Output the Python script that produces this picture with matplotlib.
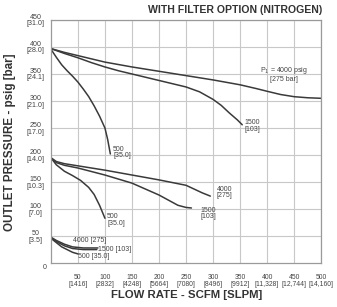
import numpy as np
import matplotlib.pyplot as plt

plt.rcParams["font.family"] = ["Liberation Sans", "DejaVu Sans"]

# flow (SCFM) and outlet pressure (psig)
# 400 psig outlet group
top_4000_x = [0, 25, 50, 75, 100, 150, 200, 250, 300, 350, 380, 400, 425, 450, 475, 500]
top_4000_y = [397, 390, 384, 378, 372, 363, 355, 347, 339, 330, 323, 318, 312, 308, 306, 305]
top_1500_x = [0, 25, 50, 75, 100, 125, 150, 175, 200, 225, 250, 275, 300, 315, 330, 345, 354]
top_1500_y = [397, 388, 380, 371, 363, 356, 350, 344, 338, 332, 326, 317, 303, 292, 278, 265, 256]
top_500_x = [0, 10, 20, 30, 40, 50, 60, 70, 80, 90, 100, 105, 110]
top_500_y = [396, 381, 367, 356, 346, 335, 322, 308, 291, 272, 250, 229, 202]

# 200 psig outlet group
mid_4000_x = [0, 10, 25, 50, 100, 150, 200, 250, 265, 280, 295]
mid_4000_y = [195, 188, 184, 180, 172, 163, 154, 144, 137, 130, 124]
mid_1500_x = [0, 10, 25, 50, 100, 150, 200, 235, 250, 260]
mid_1500_y = [195, 186, 181, 176, 163, 148, 126, 107, 103, 102]
mid_500_x = [0, 10, 25, 40, 55, 70, 80, 90, 100]
mid_500_y = [195, 182, 170, 162, 153, 140, 127, 107, 83]

# 50 psig outlet group
low_4000_x = [0, 10, 25, 40, 60, 87]
low_4000_y = [48, 42, 35, 30, 28, 28]
low_1500_x = [0, 10, 25, 40, 60, 85]
low_1500_y = [47, 40, 32, 27, 25, 25]
low_500_x = [0, 10, 20, 30, 40, 50]
low_500_y = [46, 38, 30, 25, 20, 17]

x_ticks = [50, 100, 150, 200, 250, 300, 350, 400, 450, 500]
x_slpm = ["1416", "2832", "4248", "5664", "7080", "8496", "9912", "11,328", "12,744", "14,160"]
y_ticks = [50, 100, 150, 200, 250, 300, 350, 400, 450]
y_bar = ["3.5", "7.0", "10.3", "14.0", "17.0", "21.0", "24.1", "28.0", "31.0"]

LINE = "#3a3a3a"
TXT = "#444444"

fig = plt.figure(figsize=(3.37, 3.07), dpi=100)
ax = fig.add_axes([0.151, 0.143, 0.802, 0.792])

for xs, ys in [(top_4000_x, top_4000_y), (top_1500_x, top_1500_y), (top_500_x, top_500_y),
               (mid_4000_x, mid_4000_y), (mid_1500_x, mid_1500_y), (mid_500_x, mid_500_y),
               (low_4000_x, low_4000_y), (low_1500_x, low_1500_y), (low_500_x, low_500_y)]:
    ax.plot(xs, ys, color=LINE, linewidth=1.1, solid_capstyle="round", solid_joinstyle="round")

ax.set_xlim(0, 500)
ax.set_ylim(0, 450)
ax.set_xticks(x_ticks)
ax.set_xticklabels([f"{v}\n[{s}]" for v, s in zip(x_ticks, x_slpm)],
                   fontsize=4.9, color=TXT, linespacing=0.9)
ax.set_yticks(y_ticks)
ax.set_yticklabels([f"{v}\n[{s}]" for v, s in zip(y_ticks, y_bar)],
                   fontsize=5.1, color=TXT, linespacing=0.9, ha="center")
ax.tick_params(length=0)
ax.tick_params(axis="x", pad=8)
ax.tick_params(axis="y", pad=11)
ax.grid(True, color="#c8c8c8", linewidth=0.8)
for s in ax.spines.values():
    s.set_color("#9a9a9a")
    s.set_linewidth(0.9)
ax.text(-12, -8, "0", fontsize=5.1, color=TXT, ha="center", va="center")

lab = dict(fontsize=5.0, color=TXT, linespacing=0.9)
ax.text(432, 350, "P$_1$ = 4000 psig\n[275 bar]", ha="center", va="center", **lab)
ax.text(358, 254, "1500\n[103]", ha="left", va="center", **lab)
ax.text(115, 205, "500\n[35.0]", ha="left", va="center", **lab)
ax.text(307, 131, "4000\n[275]", ha="left", va="center", **lab)
ax.text(276, 92, "1500\n[103]", ha="left", va="center", **lab)
ax.text(104, 80, "500\n[35.0]", ha="left", va="center", **lab)
ax.text(41, 41, "4000 [275]", ha="left", va="center", **lab)
ax.text(87, 25, "1500 [103]", ha="left", va="center", **lab)
ax.text(50, 13, "500 [35.0]", ha="left", va="center", **lab)

fig.text(0.955, 0.967, "WITH FILTER OPTION (NITROGEN)", ha="right", va="center",
         fontsize=7.6, fontweight="bold", color="#333333")
fig.text(0.553, 0.039, "FLOW RATE - SCFM [SLPM]", ha="center", va="center",
         fontsize=8.2, fontweight="bold", color="#333333")
fig.text(0.03, 0.537, "OUTLET PRESSURE - psig [bar]", ha="center", va="center",
         rotation=90, fontsize=8.4, fontweight="bold", color="#333333")

fig.savefig("out.png", dpi=100, facecolor="white")
